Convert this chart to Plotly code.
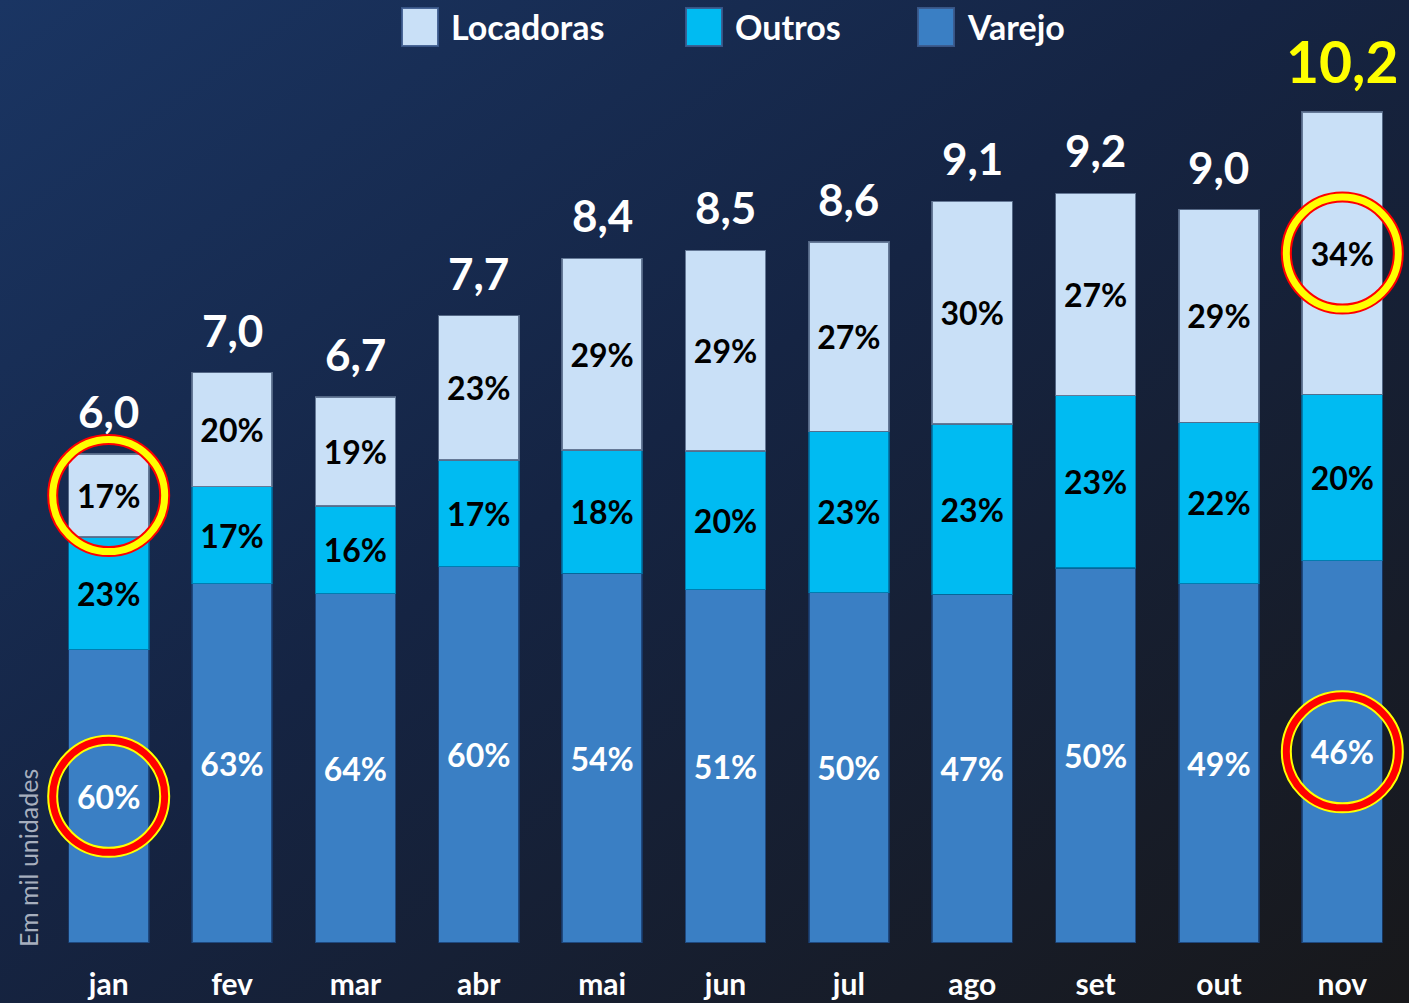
import base64
import plotly.graph_objects as go

# ---------------- data ----------------
months = ["jan", "fev", "mar", "abr", "mai", "jun", "jul", "ago", "set", "out", "nov"]
totals = [6.0, 7.0, 6.7, 7.7, 8.4, 8.5, 8.6, 9.1, 9.2, 9.0, 10.2]
pct_varejo = [60, 63, 64, 60, 54, 51, 50, 47, 50, 49, 46]
pct_outros = [23, 17, 16, 17, 18, 20, 23, 23, 23, 22, 20]
pct_locadoras = [17, 20, 19, 23, 29, 29, 27, 30, 27, 29, 34]
series_names = ["Locadoras", "Outros", "Varejo"]
highlighted = [("jan", "Locadoras"), ("jan", "Varejo"), ("nov", "Locadoras"), ("nov", "Varejo")]
highlight_total = "nov"
axis_note = "Em mil unidades"

# ---------------- derived segment values ----------------
varejo = [t * p / 100 for t, p in zip(totals, pct_varejo)]
outros = [t * p / 100 for t, p in zip(totals, pct_outros)]
locadoras = [t - v - o for t, v, o in zip(totals, varejo, outros)]

colors = {"Locadoras": "#c9e0f7", "Outros": "#00bbf2", "Varejo": "#3a7fc4"}
edge_colors = {"Locadoras": "rgba(90,110,140,0.9)", "Outros": "rgba(0,110,160,0.8)", "Varejo": "rgba(25,60,110,0.8)"}
text_colors = {"Locadoras": "#000000", "Outros": "#000000", "Varejo": "#ffffff"}
FONT = "Lato, 'Open Sans', sans-serif"

seg_values = {"Varejo": varejo, "Outros": outros, "Locadoras": locadoras}
seg_pcts = {"Varejo": pct_varejo, "Outros": pct_outros, "Locadoras": pct_locadoras}
seg_base = {
    "Varejo": [0] * len(months),
    "Outros": varejo,
    "Locadoras": [v + o for v, o in zip(varejo, outros)],
}

fig = go.Figure()
for name in ["Varejo", "Outros", "Locadoras"]:
    fig.add_trace(go.Bar(
        x=months,
        y=seg_values[name],
        name=name,
        marker=dict(color=colors[name], line=dict(color=edge_colors[name], width=1.5)),
        text=[f"{p}%" for p in seg_pcts[name]],
        textposition="inside",
        insidetextanchor="middle",
        constraintext="none",
        textfont=dict(family=FONT, size=32, color=text_colors[name], weight="bold"),
        showlegend=False,
        hoverinfo="skip",
    ))

# total labels above bars
for m, t in zip(months, totals):
    big = (m == highlight_total)
    fig.add_annotation(
        x=m, y=t, xref="x", yref="y",
        text=f"{t:.1f}".replace(".", ","),
        showarrow=False, yanchor="bottom", yshift=15,
        font=dict(family=FONT, size=57 if big else 44,
                  color="#ffff00" if big else "#ffffff", weight="bold"),
    )

# highlight rings
for m, s in highlighted:
    i = months.index(m)
    yc = seg_base[s][i] + seg_values[s][i] / 2
    if s == "Locadoras":
        outer_c, outer_w, inner_c, inner_w = "#ff0000", 11, "#ffff00", 7
    else:
        outer_c, outer_w, inner_c, inner_w = "#ffff00", 11, "#ff0000", 7
    for c, w in [(outer_c, outer_w), (inner_c, inner_w)]:
        fig.add_shape(
            type="circle", xref="x", yref="y",
            xsizemode="pixel", ysizemode="pixel",
            xanchor=i, yanchor=yc,
            x0=-56, x1=56, y0=-56, y1=56,
            line=dict(color=c, width=w), fillcolor="rgba(0,0,0,0)",
            layer="above",
        )

# ---------------- layout geometry ----------------
W, H = 1409, 1003
ML, MR, MT, MB = 47, 5, 14, 60
PW, PH = W - ML - MR, H - MT - MB


def px_x(px):
    return (px - ML) / PW


def px_y(py):
    return (H - MB - py) / PH


# custom legend (large squares)
legend_items = [(series_names[0], 402), (series_names[1], 686), (series_names[2], 918)]
for name, left in legend_items:
    fig.add_shape(
        type="rect", xref="paper", yref="paper",
        x0=px_x(left), x1=px_x(left + 36), y0=px_y(46), y1=px_y(8),
        fillcolor=colors[name], line=dict(color="rgba(60,90,140,0.9)", width=2),
        layer="above",
    )
    fig.add_annotation(
        x=px_x(left + 47), y=px_y(27), xref="paper", yref="paper",
        text=name, showarrow=False, xanchor="left", yanchor="middle",
        font=dict(family=FONT, size=34, color="#ffffff", weight="bold"),
    )

fig.add_annotation(
    x=px_x(28), y=px_y(858), xref="paper", yref="paper",
    text=axis_note, showarrow=False, textangle=-90,
    xanchor="center", yanchor="middle",
    font=dict(family=FONT, size=25, color="#a7afbe"),
)

# gradient background via inline SVG
svg = f"""<svg xmlns='http://www.w3.org/2000/svg' width='{W}' height='{H}' viewBox='0 0 {W} {H}' preserveAspectRatio='none'>
<defs><linearGradient id='g' x1='0' y1='0' x2='1' y2='1'>
<stop offset='0' stop-color='#1a3563'/>
<stop offset='0.45' stop-color='#152443'/>
<stop offset='1' stop-color='#18181a'/>
</linearGradient></defs>
<rect width='{W}' height='{H}' fill='url(#g)'/></svg>"""
src = "data:image/svg+xml;base64," + base64.b64encode(svg.encode()).decode()

fig.add_layout_image(
    source=src, xref="paper", yref="paper",
    x=-ML / PW, y=1 + MT / PH, sizex=W / PW, sizey=H / PH,
    xanchor="left", yanchor="top", sizing="stretch", layer="below",
)

fig.update_layout(
    width=W, height=H,
    margin=dict(l=ML, r=MR, t=MT, b=MB, autoexpand=False),
    barmode="stack", bargap=0.35,
    paper_bgcolor="#151f3a", plot_bgcolor="rgba(0,0,0,0)",
    showlegend=False,
    xaxis=dict(showgrid=False, zeroline=False, showline=False, ticks="",
               automargin=False, ticklabelstandoff=21,
               tickfont=dict(family=FONT, size=30, color="#ffffff", weight="bold")),
    yaxis=dict(range=[0, 11.4], showgrid=False, zeroline=False, showline=False,
               automargin=False, showticklabels=False, ticks=""),
)

fig.write_html(
    "out.html",
    config={"displayModeBar": False},
    post_script="document.body.style.margin='0px';document.body.style.overflow='hidden';",
)
